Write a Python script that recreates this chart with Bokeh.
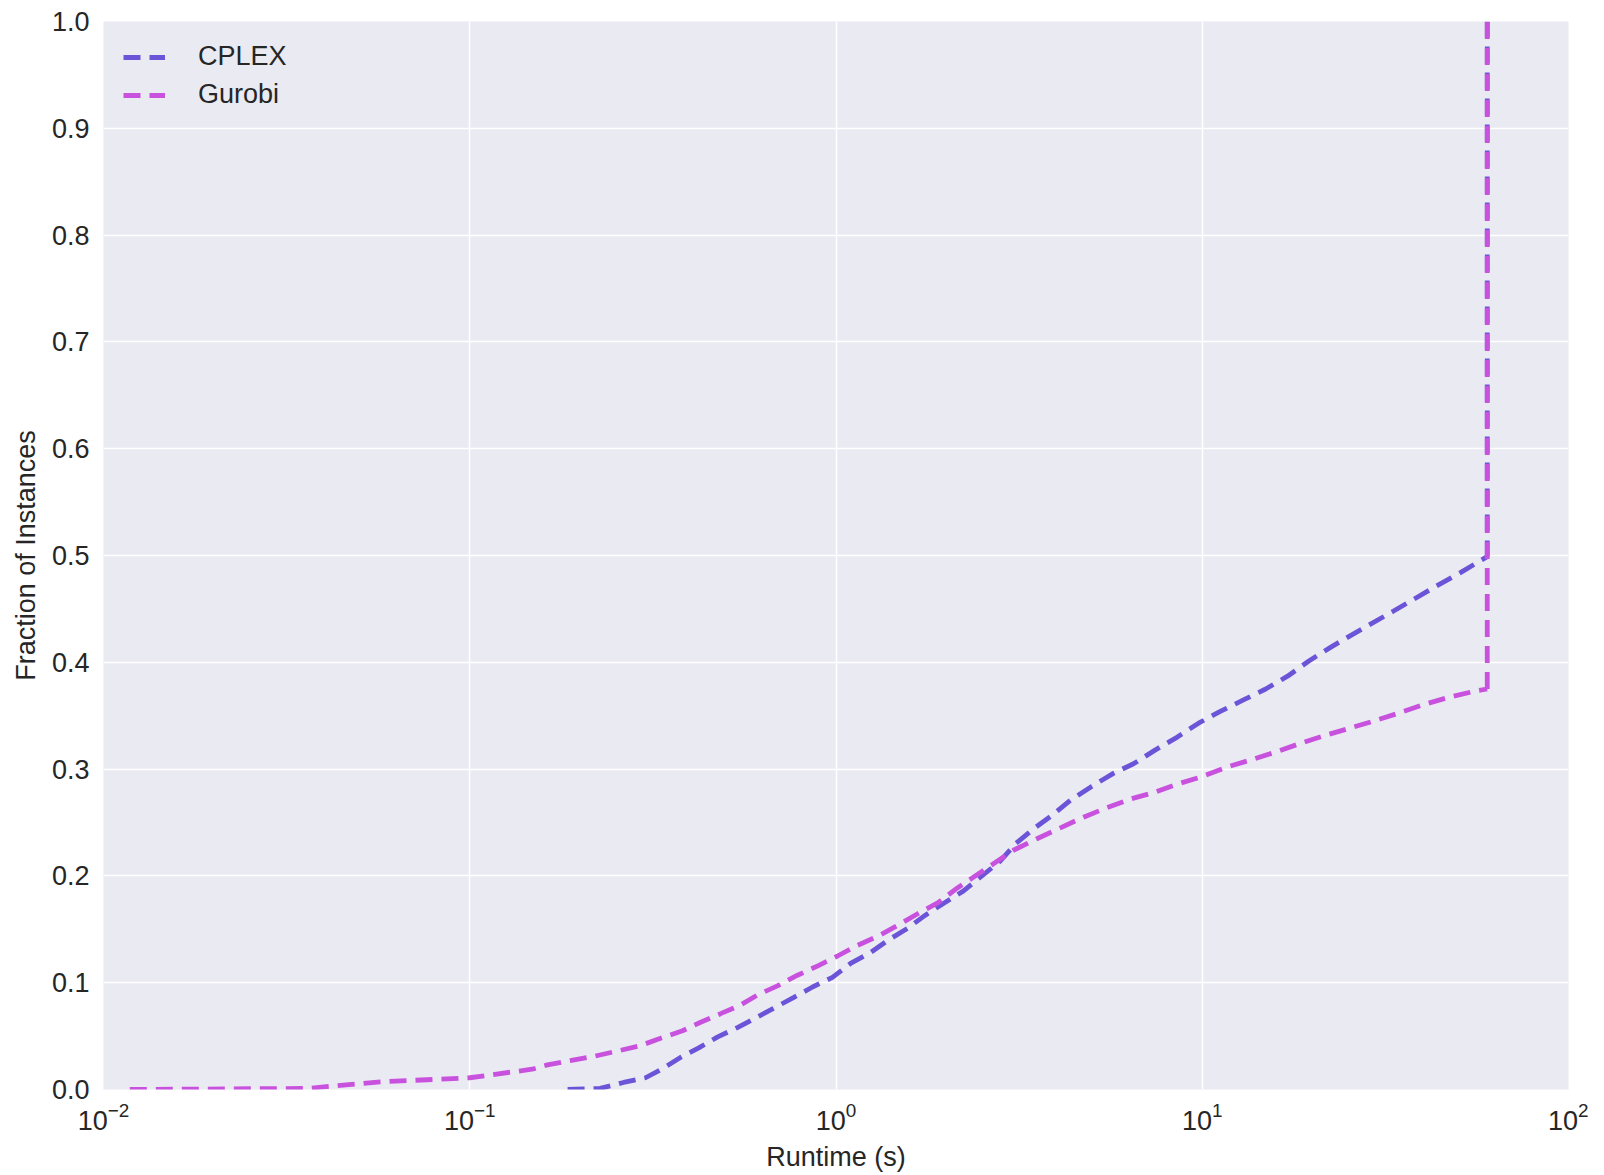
from bokeh.plotting import figure
from bokeh.models import FixedTicker, NumeralTickFormatter, Range1d, Legend, LegendItem
from bokeh.embed import file_html
from bokeh.resources import INLINE

# Runtime (s) and fraction of instances solved
cplex_time = [0.185, 0.227, 0.263, 0.302, 0.338, 0.376, 0.422, 0.474, 0.538, 0.603, 0.675, 0.765,
              0.863, 0.978, 1.096, 1.24, 1.39, 1.57, 1.75, 1.96, 2.23, 2.81, 3.09, 3.46, 3.9, 4.37,
              5.0, 5.72, 6.49, 7.45, 8.55, 9.77, 11.2, 13.0, 14.9, 17.1, 19.5, 22.4, 25.4, 33.3,
              43.9, 50.7, 60.0, 60.0]
cplex_frac = [0.0, 0.001, 0.0066, 0.011, 0.020, 0.030, 0.039, 0.049, 0.058, 0.067, 0.076, 0.086,
              0.096, 0.105, 0.118, 0.128, 0.140, 0.151, 0.163, 0.174, 0.186, 0.214, 0.230, 0.244,
              0.257, 0.271, 0.284, 0.296, 0.305, 0.318, 0.330, 0.343, 0.354, 0.365, 0.375, 0.387,
              0.401, 0.414, 0.425, 0.448, 0.472, 0.484, 0.499, 1.0]

gurobi_time = [0.0118, 0.036, 0.056, 0.1, 0.148, 0.163, 0.188, 0.218, 0.253, 0.292, 0.332, 0.381,
               0.427, 0.484, 0.548, 0.614, 0.692, 0.785, 0.895, 1.01, 1.146, 1.31, 1.48, 1.68, 1.9,
               2.15, 3.05, 3.55, 4.1, 4.74, 5.5, 6.37, 7.36, 8.55, 10.0, 11.7, 13.7, 15.9, 18.5,
               21.4, 25.1, 29.4, 34.1, 39.9, 46.8, 56.5, 60.0, 60.0]
gurobi_frac = [0.0, 0.001, 0.007, 0.011, 0.019, 0.023, 0.027, 0.031, 0.036, 0.041, 0.048, 0.055,
               0.063, 0.071, 0.079, 0.089, 0.097, 0.107, 0.116, 0.125, 0.135, 0.144, 0.154, 0.165,
               0.175, 0.189, 0.224, 0.235, 0.245, 0.255, 0.264, 0.272, 0.278, 0.286, 0.293, 0.302,
               0.309, 0.316, 0.324, 0.331, 0.338, 0.345, 0.352, 0.360, 0.367, 0.3736, 0.375, 1.0]

x_ticks = [0.01, 0.1, 1, 10, 100]
y_ticks = [round(0.1 * i, 1) for i in range(11)]

FONT = "Liberation Sans"
TXT = "#262626"
FS = "27px"
FW, FH = 1465, 1068
DASH, GAP = 17, 9
C_CPLEX = "#6C54D8"
C_GUROBI = "#C852DE"
LW = 4.8

period = DASH + GAP
# phase shift so the two final vertical steps (timeout) dash in step, CPLEX peeking 3px above
step_offset = (-(cplex_frac[-2] - gurobi_frac[-2]) * FH + 3) % period

p = figure(frame_width=FW, frame_height=FH, x_axis_type="log",
           x_range=Range1d(0.01, 100), y_range=Range1d(0, 1),
           output_backend="svg", toolbar_location=None,
           min_border_left=103, min_border_top=21, min_border_right=20, min_border_bottom=70)

p.background_fill_color = "#EAEAF2"
p.border_fill_color = "white"
p.outline_line_color = None

p.xaxis.ticker = FixedTicker(ticks=x_ticks)
p.yaxis.ticker = FixedTicker(ticks=y_ticks)
p.yaxis.formatter = NumeralTickFormatter(format="0.0")

for ax in (p.xaxis, p.yaxis):
    ax.axis_line_color = None
    ax.major_tick_line_color = None
    ax.minor_tick_line_color = None
    ax.major_tick_out = 0
    ax.major_tick_in = 0
    ax.minor_tick_out = 0
    ax.minor_tick_in = 0
    ax.major_label_text_font = FONT
    ax.major_label_text_font_size = FS
    ax.major_label_text_color = TXT
    ax.axis_label_text_font = FONT
    ax.axis_label_text_font_size = FS
    ax.axis_label_text_font_style = "normal"
    ax.axis_label_text_color = TXT

p.xaxis.axis_label = "Runtime (s)"
p.yaxis.axis_label = "Fraction of Instances"
p.xaxis.major_label_standoff = 12
p.yaxis.major_label_standoff = 14
p.xaxis.axis_label_standoff = 9
p.yaxis.axis_label_standoff = 8

p.xgrid.grid_line_color = "white"
p.ygrid.grid_line_color = "white"
p.xgrid.grid_line_width = 1.5
p.ygrid.grid_line_width = 1.5
p.xgrid.minor_grid_line_color = None

dash = f"{DASH} {GAP}"
r1 = p.line(cplex_time[:-1], cplex_frac[:-1], line_color=C_CPLEX, line_width=LW, line_dash=dash)
p.line(cplex_time[-2:], cplex_frac[-2:], line_color=C_CPLEX, line_width=LW, line_dash=dash,
       line_dash_offset=int(round(step_offset)))
r2 = p.line(gurobi_time[:-1], gurobi_frac[:-1], line_color=C_GUROBI, line_width=LW, line_dash=dash)
p.line(gurobi_time[-2:], gurobi_frac[-2:], line_color=C_GUROBI, line_width=LW, line_dash=dash)

legend = Legend(items=[LegendItem(label="CPLEX", renderers=[r1]),
                       LegendItem(label="Gurobi", renderers=[r2])],
                location="top_left")
legend.border_line_color = None
legend.background_fill_alpha = 0
legend.label_text_font = FONT
legend.label_text_font_size = FS
legend.label_text_color = TXT
legend.glyph_width = 42
legend.glyph_height = 28
legend.label_height = 28
legend.label_standoff = 33
legend.spacing = 7
legend.margin = 20
legend.padding = 25
p.add_layout(legend)

open("out.html", "w").write(file_html(p, INLINE))
